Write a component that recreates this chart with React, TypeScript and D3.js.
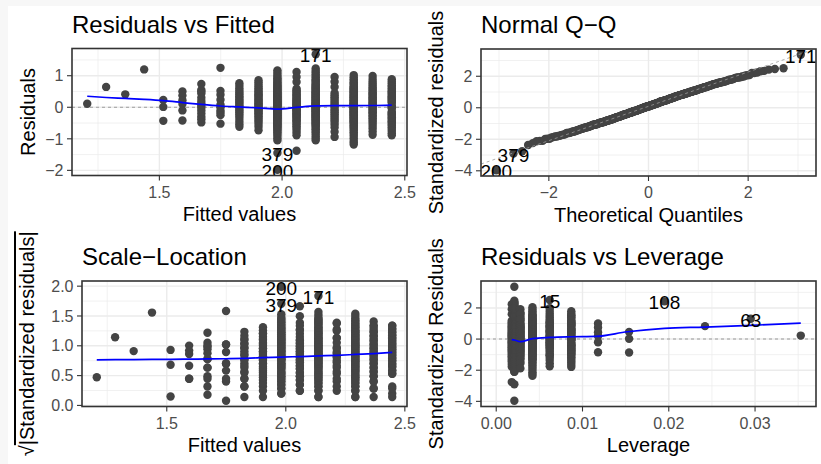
import React from 'react';
import * as d3 from 'd3';

const W = 821;
const H = 464;
const FONT = "'Liberation Sans', Arial, Helvetica, sans-serif";

// ---- data ----
const fittedLevels = [1.206, 1.283, 1.361, 1.438, 1.516, 1.594, 1.671, 1.749, 1.826, 1.904, 1.981, 2.059, 2.137, 2.214, 2.292, 2.369, 2.447];
const leverageLevels = [0.0353, 0.0295, 0.0242, 0.0195, 0.0154, 0.0118, 0.0087, 0.0062, 0.0042, 0.0028, 0.0021, 0.0018, 0.0021, 0.0028, 0.0042, 0.0062, 0.0087];
const residualSE = 0.5;

const residualsByGroup: number[][] = [
  [0.11],
  [],
  [0.41],
  [],
  [0.23, 0.011, -0.43],
  [0.5, 0.37, 0.22, 0.1, -0.1, -0.42],
  [0.74, 0.55, 0.5, 0.44, 0.3, 0.2, 0.12, 0.05, -0.016, -0.1, -0.2, -0.3, -0.38, -0.48],
  [0.52, 0.4, 0.24, 0.08, 0.003, -0.1, -0.17, -0.25, -0.52],
  [0.76, 0.68, 0.6, 0.53, 0.47, 0.41, 0.35, 0.3, 0.25, 0.2, 0.15, 0.1, 0.05, 0.01, -0.05, -0.1, -0.16, -0.22, -0.29, -0.37, -0.46, -0.54, -0.62],
  [0.86, 0.79, 0.72, 0.66, 0.6, 0.55, 0.5, 0.45, 0.41, 0.37, 0.33, 0.29, 0.25, 0.21, 0.17, 0.13, 0.09, 0.05, 0.01, -0.03, -0.07, -0.11, -0.15, -0.19, -0.24, -0.29, -0.34, -0.4, -0.46, -0.53, -0.62, -0.73],
  [1.17, 1.1, 1.03, 0.97, 0.92, 0.87, 0.83, 0.79, 0.75, 0.71, 0.68, 0.65, 0.62, 0.59, 0.56, 0.53, 0.5, 0.47, 0.45, 0.42, 0.4, 0.37, 0.35, 0.32, 0.3, 0.28, 0.25, 0.23, 0.21, 0.19, 0.16, 0.14, 0.12, 0.1, 0.08, 0.06, 0.04, 0.02, -0.02, -0.04, -0.06, -0.08, -0.1, -0.12, -0.14, -0.16, -0.19, -0.21, -0.23, -0.25, -0.28, -0.3, -0.32, -0.35, -0.37, -0.4, -0.42, -0.45, -0.48, -0.51, -0.54, -0.57, -0.6, -0.63, -0.67, -0.71, -0.75, -0.8, -0.85, -0.91, -0.98, -1.05],
  [1.12, 0.96, 0.8, 0.59, 0.54, 0.49, 0.45, 0.41, 0.37, 0.33, 0.29, 0.26, 0.22, 0.19, 0.15, 0.12, 0.09, 0.06, 0.03, -0.03, -0.06, -0.09, -0.12, -0.15, -0.19, -0.22, -0.26, -0.29, -0.33, -0.37, -0.41, -0.45, -0.5, -0.55, -0.6, -0.66, -0.72, -0.8, -0.89, -1.38],
  [1.23, 1.16, 1.1, 1.04, 0.99, 0.94, 0.89, 0.85, 0.81, 0.77, 0.73, 0.7, 0.66, 0.63, 0.6, 0.57, 0.54, 0.51, 0.48, 0.46, 0.43, 0.41, 0.38, 0.36, 0.33, 0.31, 0.29, 0.26, 0.24, 0.22, 0.2, 0.17, 0.15, 0.13, 0.11, 0.09, 0.07, 0.05, 0.03, 0.01, -0.01, -0.03, -0.05, -0.07, -0.09, -0.11, -0.13, -0.15, -0.18, -0.2, -0.22, -0.25, -0.27, -0.29, -0.32, -0.34, -0.37, -0.39, -0.42, -0.45, -0.48, -0.51, -0.54, -0.58, -0.62, -0.66, -0.7, -0.75, -0.8, -0.86, -0.93, -0.99, -1.05],
  [0.96, 0.81, 0.64, 0.45, 0.38, 0.32, 0.26, 0.2, 0.14, 0.08, 0.03, -0.05, -0.1, -0.16, -0.22, -0.28, -0.34, -0.4, -0.47, -0.55, -0.64, -0.78, -0.94],
  [1.02, 0.95, 0.89, 0.84, 0.79, 0.75, 0.71, 0.67, 0.63, 0.6, 0.57, 0.54, 0.51, 0.48, 0.45, 0.42, 0.39, 0.37, 0.34, 0.32, 0.29, 0.27, 0.24, 0.22, 0.2, 0.17, 0.15, 0.13, 0.11, 0.09, 0.07, 0.05, 0.03, 0.01, -0.01, -0.03, -0.05, -0.07, -0.09, -0.11, -0.13, -0.16, -0.18, -0.2, -0.22, -0.25, -0.27, -0.3, -0.32, -0.35, -0.38, -0.41, -0.44, -0.47, -0.5, -0.53, -0.57, -0.61, -0.65, -0.69, -0.74, -0.79, -0.85, -0.91, -0.98, -1.06, -1.12, -1.18],
  [0.99, 0.9, 0.82, 0.75, 0.69, 0.63, 0.58, 0.53, 0.48, 0.44, 0.4, 0.36, 0.32, 0.28, 0.24, 0.2, 0.16, 0.12, 0.08, 0.04, 0.01, -0.04, -0.08, -0.12, -0.16, -0.2, -0.25, -0.3, -0.35, -0.4, -0.46, -0.52, -0.59, -0.67, -0.77, -0.87],
  [0.89, 0.82, 0.76, 0.7, 0.65, 0.6, 0.55, 0.51, 0.47, 0.43, 0.39, 0.35, 0.31, 0.28, 0.24, 0.21, 0.17, 0.14, 0.05, 0.02, -0.01, -0.04, -0.14, -0.17, -0.21, -0.24, -0.28, -0.32, -0.36, -0.4, -0.44, -0.48, -0.53, -0.58, -0.63, -0.69, -0.75, -0.82, -0.89],
];

const labeledIds = ['63', '108', '15', '171', '379', '200'];
const labeledGroups = [1, 3, 7, 12, 10, 10];
const labeledResiduals = [0.645, 1.2, 1.25, 1.68, -1.45, -1.98];

const labelsFitted = ['171', '379', '200'];
const labelsLeverage = ['15', '108', '63'];

// smoother values
const smoothResidVsFitted = [0.35, 0.31, 0.28, 0.25, 0.21, 0.15, 0.09, 0.04, 0.01, -0.02, -0.06, -0.005, 0.045, 0.05, 0.052, 0.056, 0.07];
const smoothScaleLocation = [0.765, 0.767, 0.769, 0.771, 0.773, 0.776, 0.779, 0.783, 0.79, 0.8, 0.81, 0.82, 0.83, 0.84, 0.855, 0.87, 0.89];
const smoothLeverageX = [0.0018, 0.0021, 0.0028, 0.0042, 0.0062, 0.0087, 0.0115, 0.0152, 0.0195, 0.0242, 0.0295, 0.0353];
const smoothLeverageY = [-0.03, -0.06, -0.17, 0.03, 0.11, 0.15, 0.17, 0.47, 0.69, 0.77, 0.88, 1.03];

const ticksFitted = [1.5, 2.0, 2.5];
const ticksResid = [-2, -1, 0, 1];
const ticksTheo = [-2, 0, 2];
const ticksStd = [-4, -2, 0, 2];
const ticksSqrt = [0, 0.5, 1.0, 1.5, 2.0];
const ticksLev = [0, 0.01, 0.02, 0.03];

// ---- helpers ----
function qnorm(p: number): number {
  const a = [-3.969683028665376e1, 2.209460984245205e2, -2.759285104469687e2, 1.38357751867269e2, -3.066479806614716e1, 2.506628277459239];
  const b = [-5.447609879822406e1, 1.615858368580409e2, -1.556989798598866e2, 6.680131188771972e1, -1.328068155288572e1];
  const c = [-7.784894002430293e-3, -3.223964580411365e-1, -2.400758277161838, -2.549732539343734, 4.374664141464968, 2.938163982698783];
  const d = [7.784695709041462e-3, 3.224671290700398e-1, 2.445134137142996, 3.754408661907416];
  const plow = 0.02425;
  if (p < plow) {
    const q = Math.sqrt(-2 * Math.log(p));
    return (((((c[0] * q + c[1]) * q + c[2]) * q + c[3]) * q + c[4]) * q + c[5]) / ((((d[0] * q + d[1]) * q + d[2]) * q + d[3]) * q + 1);
  }
  if (p > 1 - plow) {
    const q = Math.sqrt(-2 * Math.log(1 - p));
    return -(((((c[0] * q + c[1]) * q + c[2]) * q + c[3]) * q + c[4]) * q + c[5]) / ((((d[0] * q + d[1]) * q + d[2]) * q + d[3]) * q + 1);
  }
  const q = p - 0.5;
  const r = q * q;
  return (((((a[0] * r + a[1]) * r + a[2]) * r + a[3]) * r + a[4]) * r + a[5]) * q / (((((b[0] * r + b[1]) * r + b[2]) * r + b[3]) * r + b[4]) * r + 1);
}

type Obs = { id: string | null; k: number; fitted: number; resid: number; lev: number; std: number; sl: number; theo?: number };

function buildObs(): Obs[] {
  const out: Obs[] = [];
  const push = (k: number, r: number, id: string | null) => {
    const lev = leverageLevels[k];
    const std = r / (residualSE * Math.sqrt(1 - lev));
    out.push({ id, k, fitted: fittedLevels[k], resid: r, lev, std, sl: Math.sqrt(Math.abs(std)) });
  };
  residualsByGroup.forEach((arr, k) => arr.forEach((r) => push(k, r, null)));
  labeledIds.forEach((id, i) => push(labeledGroups[i], labeledResiduals[i], id));
  const sorted = [...out].sort((a, b) => a.std - b.std);
  const n = sorted.length;
  const aa = n <= 10 ? 3 / 8 : 0.5;
  sorted.forEach((o, i) => { o.theo = qnorm((i + 1 - aa) / (n + 1 - 2 * aa)); });
  return out;
}

function expand(ext: [number, number], m = 0.05): [number, number] {
  const span = ext[1] - ext[0];
  return [ext[0] - span * m, ext[1] + span * m];
}

function minorTicks(major: number[], domain: [number, number]): number[] {
  const step = major[1] - major[0];
  const res: number[] = [];
  const all = [major[0] - step, ...major, major[major.length - 1] + step];
  for (let i = 0; i < all.length - 1; i++) {
    const m = (all[i] + all[i + 1]) / 2;
    if (m > domain[0] && m < domain[1]) res.push(m);
  }
  return res;
}

type Box = { l: number; r: number; t: number; b: number };

interface PanelProps {
  id: string;
  box: Box;
  xDomain: [number, number];
  yDomain: [number, number];
  xTicks: number[];
  yTicks: number[];
  xFmt: (v: number) => string;
  yFmt: (v: number) => string;
  title: string;
  xLabel: string;
  yLabel: React.ReactNode;
  yLabelX: number;
  render: (x: d3.ScaleLinear<number, number>, y: d3.ScaleLinear<number, number>) => React.ReactNode;
}

function Panel(p: PanelProps) {
  const { box } = p;
  const x = d3.scaleLinear().domain(p.xDomain).range([box.l, box.r]);
  const y = d3.scaleLinear().domain(p.yDomain).range([box.b, box.t]);
  const xMinor = minorTicks(p.xTicks, p.xDomain);
  const yMinor = minorTicks(p.yTicks, p.yDomain);
  const xMajor = p.xTicks.filter((v) => v >= p.xDomain[0] && v <= p.xDomain[1]);
  const yMajor = p.yTicks.filter((v) => v >= p.yDomain[0] && v <= p.yDomain[1]);
  const cx = (box.l + box.r) / 2;
  const cy = (box.t + box.b) / 2;
  return (
    <g>
      <defs>
        <clipPath id={`clip-${p.id}`}>
          <rect x={box.l} y={box.t} width={box.r - box.l} height={box.b - box.t} />
        </clipPath>
      </defs>
      <rect x={box.l} y={box.t} width={box.r - box.l} height={box.b - box.t} fill="#ffffff" />
      {xMinor.map((v) => <line key={`xm${v}`} x1={x(v)} x2={x(v)} y1={box.t} y2={box.b} stroke="#EBEBEB" strokeWidth={0.7} />)}
      {yMinor.map((v) => <line key={`ym${v}`} x1={box.l} x2={box.r} y1={y(v)} y2={y(v)} stroke="#EBEBEB" strokeWidth={0.7} />)}
      {xMajor.map((v) => <line key={`xM${v}`} x1={x(v)} x2={x(v)} y1={box.t} y2={box.b} stroke="#EBEBEB" strokeWidth={1.4} />)}
      {yMajor.map((v) => <line key={`yM${v}`} x1={box.l} x2={box.r} y1={y(v)} y2={y(v)} stroke="#EBEBEB" strokeWidth={1.4} />)}
      <g clipPath={`url(#clip-${p.id})`}>{p.render(x, y)}</g>
      <rect x={box.l} y={box.t} width={box.r - box.l} height={box.b - box.t} fill="none" stroke="#333333" strokeWidth={1.6} />
      {xMajor.map((v) => (
        <g key={`xt${v}`}>
          <line x1={x(v)} x2={x(v)} y1={box.b} y2={box.b + 5} stroke="#333333" strokeWidth={1.1} />
          <text x={x(v)} y={box.b + 22} textAnchor="middle" fontSize={16} fill="#4D4D4D" fontFamily={FONT}>{p.xFmt(v)}</text>
        </g>
      ))}
      {yMajor.map((v) => (
        <g key={`yt${v}`}>
          <line x1={box.l - 5} x2={box.l} y1={y(v)} y2={y(v)} stroke="#333333" strokeWidth={1.1} />
          <text x={box.l - 8.5} y={y(v) + 5.7} textAnchor="end" fontSize={16} fill="#4D4D4D" fontFamily={FONT}>{p.yFmt(v)}</text>
        </g>
      ))}
      <text x={box.l} y={box.t - 16} fontSize={24} fill="#000" fontFamily={FONT}>{p.title}</text>
      <text x={cx} y={box.b + 45.5} textAnchor="middle" fontSize={20} fill="#000" fontFamily={FONT}>{p.xLabel}</text>
      <text transform={`translate(${p.yLabelX},${cy}) rotate(-90)`} textAnchor="middle" fontSize={20} fill="#000" fontFamily={FONT}>{p.yLabel}</text>
    </g>
  );
}

export default function App() {
  const obs = buildObs();
  const fmtMinus = (s: string) => s.replace('-', '\u2212');
  const fmt1 = (v: number) => fmtMinus(d3.format('.1f')(v));
  const fmt0 = (v: number) => fmtMinus(d3.format('d')(v));
  const fmt2 = (v: number) => fmtMinus(d3.format('.2f')(v));

  const fitExt = expand(d3.extent(fittedLevels) as [number, number]);
  const residExt = expand(d3.extent(obs, (o) => o.resid) as [number, number]);
  const stdExt = expand(d3.extent(obs, (o) => o.std) as [number, number]);
  const theoExt = expand(d3.extent(obs, (o) => o.theo as number) as [number, number]);
  const slExt = expand(d3.extent(obs, (o) => o.sl) as [number, number]);
  const levExt = expand([0, d3.max(leverageLevels) as number]);

  const stdSorted = obs.map((o) => o.std).sort((a, b) => a - b);
  const q1 = d3.quantileSorted(stdSorted, 0.25) as number;
  const q3 = d3.quantileSorted(stdSorted, 0.75) as number;
  const t1 = qnorm(0.25);
  const t3 = qnorm(0.75);
  const slope = (q3 - q1) / (t3 - t1);
  const intercept = q1 - slope * t1;

  const PT = 4.2;
  const PCOL = '#444444';
  const LAB = 19;

  const P1: Box = { l: 72, r: 407, t: 48.5, b: 175.5 };
  const P2: Box = { l: 481, r: 816, t: 49, b: 176 };
  const P3: Box = { l: 82, r: 407, t: 281, b: 406.5 };
  const P4: Box = { l: 481, r: 816, t: 281, b: 406.5 };

  const labelText = (key: string, x: number, y: number, t: string) => (
    <text key={key} x={x} y={y + 8} textAnchor="middle" fontSize={LAB} fill="#000" fontFamily={FONT}>{t}</text>
  );

  return (
    <div style={{ position: 'absolute', left: 0, top: 0 }}>
      <svg width={W} height={H} viewBox={`0 0 ${W} ${H}`} style={{ display: 'block' }}>
        <rect x={0} y={0} width={W} height={H} fill="#f7f7f7" />
        <rect x={8} y={6} width={W - 8} height={H - 6} fill="#ffffff" />

        <Panel id="p1" box={P1} xDomain={fitExt} yDomain={residExt} xTicks={ticksFitted} yTicks={ticksResid}
          xFmt={fmt1} yFmt={fmt0} title="Residuals vs Fitted" xLabel="Fitted values" yLabel="Residuals" yLabelX={35}
          render={(x, y) => {
            const line = d3.line<number>().x((_, i) => x(fittedLevels[i])).y((v) => y(v)).curve(d3.curveMonotoneX);
            return (
              <g>
                <line x1={P1.l} x2={P1.r} y1={y(0)} y2={y(0)} stroke="#8a8a8a" strokeWidth={0.8} strokeDasharray="3,3" />
                {obs.map((o, i) => <circle key={i} cx={x(o.fitted)} cy={y(o.resid)} r={PT} fill={PCOL} />)}
                <path d={line(smoothResidVsFitted) || ''} fill="none" stroke="#0000FF" strokeWidth={1.7} />
                {obs.filter((o) => o.id && labelsFitted.includes(o.id)).map((o) => labelText(`l1${o.id}`, x(o.fitted), y(o.resid), o.id as string))}
              </g>
            );
          }} />

        <Panel id="p2" box={P2} xDomain={theoExt} yDomain={stdExt} xTicks={ticksTheo} yTicks={ticksStd}
          xFmt={fmt0} yFmt={fmt0} title={'Normal Q\u2212Q'} xLabel="Theoretical Quantiles" yLabel="Standardized residuals" yLabelX={443}
          render={(x, y) => (
            <g>
              {obs.map((o, i) => <circle key={i} cx={x(o.theo as number)} cy={y(o.std)} r={PT} fill={PCOL} />)}
              <line x1={x(theoExt[0])} x2={x(theoExt[1])} y1={y(intercept + slope * theoExt[0])} y2={y(intercept + slope * theoExt[1])}
                stroke="#9a9a9a" strokeWidth={0.8} strokeDasharray="3,3" />
              {obs.filter((o) => o.id && labelsFitted.includes(o.id)).map((o) => labelText(`l2${o.id}`, x(o.theo as number), y(o.std), o.id as string))}
            </g>
          )} />

        <Panel id="p3" box={P3} xDomain={fitExt} yDomain={slExt} xTicks={ticksFitted} yTicks={ticksSqrt}
          xFmt={fmt1} yFmt={fmt1} title={'Scale\u2212Location'} xLabel="Fitted values"
          yLabel={<><tspan>{'\u221A'}</tspan><tspan style={{ textDecoration: 'overline' }}>|Standardized residuals|</tspan></>}
          yLabelX={34}
          render={(x, y) => {
            const line = d3.line<number>().x((_, i) => x(fittedLevels[i])).y((v) => y(v)).curve(d3.curveMonotoneX);
            return (
              <g>
                {obs.map((o, i) => <circle key={i} cx={x(o.fitted)} cy={y(o.sl)} r={PT} fill={PCOL} />)}
                <path d={line(smoothScaleLocation) || ''} fill="none" stroke="#0000FF" strokeWidth={1.7} />
                {obs.filter((o) => o.id && labelsFitted.includes(o.id)).map((o) => labelText(`l3${o.id}`, x(o.fitted), y(o.sl), o.id as string))}
              </g>
            );
          }} />

        <Panel id="p4" box={P4} xDomain={levExt} yDomain={stdExt} xTicks={ticksLev} yTicks={ticksStd}
          xFmt={fmt2} yFmt={fmt0} title="Residuals vs Leverage" xLabel="Leverage" yLabel="Standardized Residuals" yLabelX={443}
          render={(x, y) => {
            const line = d3.line<number>().x((_, i) => x(smoothLeverageX[i])).y((v) => y(v)).curve(d3.curveMonotoneX);
            return (
              <g>
                <line x1={P4.l} x2={P4.r} y1={y(0)} y2={y(0)} stroke="#9a9a9a" strokeWidth={1.1} strokeDasharray="3,3" />
                {obs.map((o, i) => <circle key={i} cx={x(o.lev)} cy={y(o.std)} r={PT} fill={PCOL} />)}
                <path d={line(smoothLeverageY) || ''} fill="none" stroke="#0000FF" strokeWidth={1.7} />
                {obs.filter((o) => o.id && labelsLeverage.includes(o.id)).map((o) => labelText(`l4${o.id}`, x(o.lev), y(o.std), o.id as string))}
              </g>
            );
          }} />
      </svg>
    </div>
  );
}
